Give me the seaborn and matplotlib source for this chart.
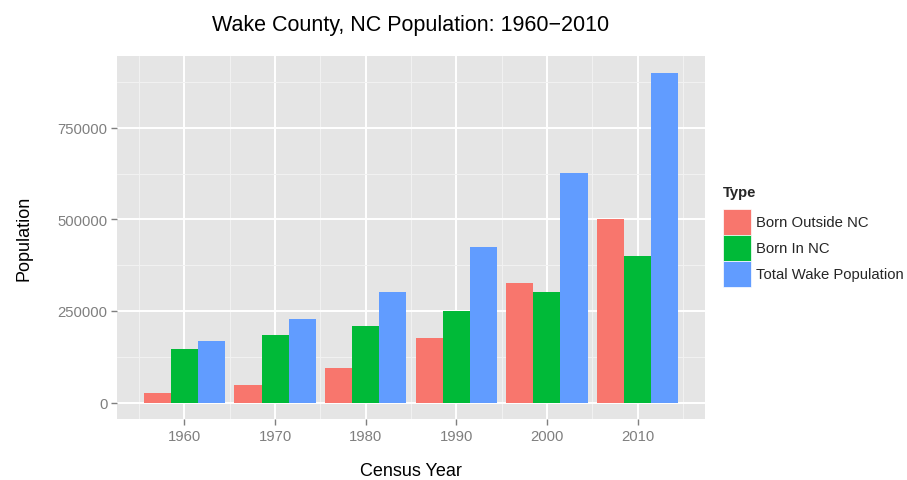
import pandas as pd
import matplotlib.pyplot as plt
import seaborn as sns
from matplotlib.patches import Patch

# values
YEARS = [1960, 1970, 1980, 1990, 2000, 2010]
TYPES = ["Born Outside NC", "Born In NC", "Total Wake Population"]
BORN_OUTSIDE = [24700, 46700, 93400, 175800, 327000, 500000]
BORN_IN = [145600, 184000, 208800, 250000, 302000, 401000]
TOTAL = [169082, 228453, 301327, 423380, 627846, 900993]
COLORS = ["#F8766D", "#00BA38", "#619CFF"]

df = pd.DataFrame({
    "year": YEARS * 3,
    "pop": BORN_OUTSIDE + BORN_IN + TOTAL,
    "Type": [t for t in TYPES for _ in YEARS],
})

sns.set_theme(style="darkgrid", rc={
    "axes.facecolor": "#E5E5E5",
    "grid.color": "white",
})
plt.rcParams["font.family"] = ["Liberation Sans", "DejaVu Sans"]

fig = plt.figure(figsize=(9.07, 4.81), dpi=100)
ax = fig.add_axes([117 / 907, 61 / 481, 588 / 907, 363 / 481])

sns.barplot(data=df, x="year", y="pop", hue="Type", hue_order=TYPES,
            palette=COLORS, saturation=1, native_scale=True, width=0.9,
            linewidth=0, ax=ax, legend=False)

ax.set_xlim(1952.55, 2017.45)
ax.set_ylim(-45050, 946050)
ax.set_xticks(YEARS)
ax.set_xticks([y + 5 for y in [1950] + YEARS], minor=True)
ax.set_yticks([0, 250000, 500000, 750000])
ax.set_yticks([125000, 375000, 625000, 875000], minor=True)
ax.set_xticklabels([str(y) for y in YEARS])
ax.set_yticklabels(["0", "250000", "500000", "750000"])
ax.grid(which="major", color="white", linewidth=1.4)
ax.grid(which="minor", color="#F2F2F2", linewidth=0.7)
ax.set_axisbelow(True)
for s in ax.spines.values():
    s.set_visible(False)
ax.tick_params(axis="both", which="major", length=4, width=1, color="#7F7F7F",
               labelcolor="#7F7F7F", labelsize=10.7, pad=3, bottom=True, left=True)
ax.tick_params(axis="both", which="minor", length=0)

ax.set_xlabel("Census Year", fontsize=13, color="black", labelpad=14)
ax.set_ylabel("Population", fontsize=13, color="black", labelpad=18)
ax.set_title("Wake County, NC Population: 1960\u22122010", fontsize=15.5,
             color="black", pad=19)

handles = [Patch(facecolor=c, edgecolor="white", linewidth=0.5) for c in COLORS]
leg = fig.legend(handles, TYPES, title="Type", loc="upper left",
                 bbox_to_anchor=(723 / 907, 1 - 186 / 481), frameon=False,
                 fontsize=10.7, title_fontsize=10.7, handlelength=1.88,
                 handleheight=2.32, labelspacing=0.0, handletextpad=0.35,
                 borderaxespad=0, borderpad=0, alignment="left")
leg.get_title().set_fontweight("bold")
# a little more room between the legend title and the keys
leg._legend_box.sep = 7

fig.savefig("out.png", dpi=100, facecolor="white")
